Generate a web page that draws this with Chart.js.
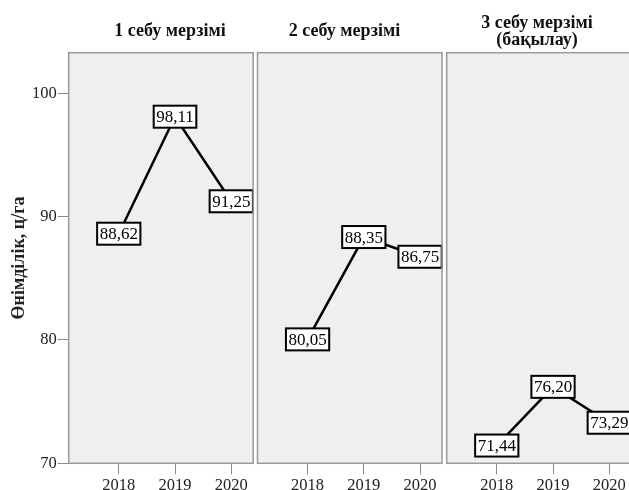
<!DOCTYPE html>
<html>
<head>
<meta charset="utf-8">
<script src="https://cdn.jsdelivr.net/npm/chart.js@4.4.0/dist/chart.umd.min.js"></script>
<style>
  html, body { margin: 0; padding: 0; background: #fff; overflow: hidden; }
  #wrap { position: relative; width: 629px; height: 490px; overflow: hidden; }
  #wrap canvas { position: absolute; top: 0; }
</style>
</head>
<body>
<div id="wrap">
  <canvas id="c1"></canvas>
  <canvas id="c2"></canvas>
  <canvas id="c3"></canvas>
</div>
<script>
// data
var years = [2018, 2019, 2020];
var yield1 = [88.62, 98.11, 91.25];
var yield2 = [80.05, 88.35, 86.75];
var yield3 = [71.44, 76.20, 73.29];
var yTicks = [70, 80, 90, 100];
var panelTitles = [['1 себу мерзімі'], ['2 себу мерзімі'], ['3 себу мерзімі', '(бақылау)']];
var yAxisTitle = 'Өнімділік, ц/га';

// layout of the three panels (page pixels)
var panels = [
  { id: 'c1', series: yield1, left: 0,   width: 255, padL: 0,   padR: 1.8, showY: true,  titleX: 170 },
  { id: 'c2', series: yield2, left: 256, width: 188, padL: 1.5, padR: 2,   showY: false, titleX: 344.5 },
  { id: 'c3', series: yield3, left: 445, width: 190, padL: 1.7, padR: 3.8, showY: false, titleX: 537 }
];
var H = 490;
var plotTop = 52.7;
var plotBottom = 463.3;

Chart.defaults.font.family = "'Liberation Serif', 'DejaVu Serif', serif";
Chart.defaults.color = '#222';

function fmt(v) {
  return v.toFixed(2).replace('.', ',');
}

var panelBox = {
  id: 'panelBox',
  beforeDraw: function(chart) {
    var a = chart.chartArea, ctx = chart.ctx;
    ctx.save();
    ctx.fillStyle = '#efefef';
    ctx.fillRect(a.left, a.top, a.right - a.left, a.bottom - a.top);
    ctx.restore();
  },
  afterDraw: function(chart) {
    var a = chart.chartArea, ctx = chart.ctx;
    ctx.save();
    ctx.strokeStyle = '#9a9a9a';
    ctx.lineWidth = 1.5;
    ctx.strokeRect(a.left, a.top, a.right - a.left, a.bottom - a.top);
    ctx.restore();
  }
};

var valueLabels = {
  id: 'valueLabels',
  afterDatasetsDraw: function(chart) {
    var ctx = chart.ctx;
    var ds = chart.data.datasets[0];
    var meta = chart.getDatasetMeta(0);
    ctx.save();
    ctx.font = "17px 'Liberation Serif', serif";
    ctx.textAlign = 'center';
    ctx.textBaseline = 'middle';
    meta.data.forEach(function(pt, i) {
      var txt = fmt(ds.data[i].y);
      var w = ctx.measureText(txt).width + 5;
      var h = 22;
      ctx.fillStyle = '#fff';
      ctx.fillRect(pt.x - w / 2, pt.y - h / 2, w, h);
      ctx.strokeStyle = '#000';
      ctx.lineWidth = 2;
      ctx.strokeRect(pt.x - w / 2, pt.y - h / 2, w, h);
      ctx.fillStyle = '#000';
      ctx.fillText(txt, pt.x, pt.y + 1);
    });
    ctx.restore();
  }
};

var panelTitle = {
  id: 'panelTitle',
  afterDraw: function(chart) {
    var p = chart.options.plugins.panelTitle;
    var ctx = chart.ctx;
    ctx.save();
    ctx.font = "bold 18px 'Liberation Serif', serif";
    ctx.fillStyle = '#111';
    ctx.textAlign = 'center';
    ctx.textBaseline = 'alphabetic';
    var lines = p.lines;
    var base = lines.length > 1 ? 28 : 36;
    lines.forEach(function(l, i) {
      ctx.fillText(l, p.x, base + i * 16.5);
    });
    ctx.restore();
  }
};

panels.forEach(function(p, idx) {
  var cv = document.getElementById(p.id);
  cv.width = p.width;
  cv.height = H;
  cv.style.left = p.left + 'px';
  cv.style.width = p.width + 'px';
  cv.style.height = H + 'px';

  var pts = years.map(function(yr, i) { return { x: yr, y: p.series[i] }; });

  new Chart(cv.getContext('2d'), {
    type: 'line',
    data: {
      datasets: [{
        data: pts,
        borderColor: '#000',
        borderWidth: 2.5,
        pointRadius: 0,
        tension: 0
      }]
    },
    options: {
      responsive: false,
      animation: false,
      layout: { padding: { top: plotTop, bottom: 0, left: p.padL, right: p.padR } },
      plugins: {
        legend: { display: false },
        tooltip: { enabled: false },
        panelTitle: { lines: panelTitles[idx], x: p.titleX - p.left }
      },
      scales: {
        x: {
          type: 'linear',
          min: 2017.11,
          max: 2020.39,
          afterBuildTicks: function(s) { s.ticks = years.map(function(v) { return { value: v }; }); },
          afterFit: function(s) { s.height = H - plotBottom; },
          border: { display: false },
          grid: { drawOnChartArea: false, drawTicks: true, tickLength: 11, color: '#8a8a8a' },
          ticks: {
            autoSkip: false, maxRotation: 0, padding: 1,
            font: { size: 16.5 }, color: '#222',
            callback: function(v) { return String(v); }
          }
        },
        y: {
          display: p.showY,
          min: 70,
          max: 103.3,
          afterBuildTicks: function(s) { s.ticks = yTicks.map(function(v) { return { value: v }; }); },
          afterFit: function(s) { s.width = p.showY ? 68.7 : 0; },
          border: { display: false },
          grid: { drawOnChartArea: false, drawTicks: true, tickLength: 11, color: '#8a8a8a' },
          ticks: {
            padding: 1,
            font: { size: 16.5 }, color: '#222',
            callback: function(v) { return String(v); }
          },
          title: {
            display: true,
            text: yAxisTitle,
            font: { size: 18, weight: 'bold' },
            color: '#222',
            padding: { top: 9, bottom: 0 }
          }
        }
      }
    },
    plugins: [panelBox, valueLabels, panelTitle]
  });
});
</script>
</body>
</html>
